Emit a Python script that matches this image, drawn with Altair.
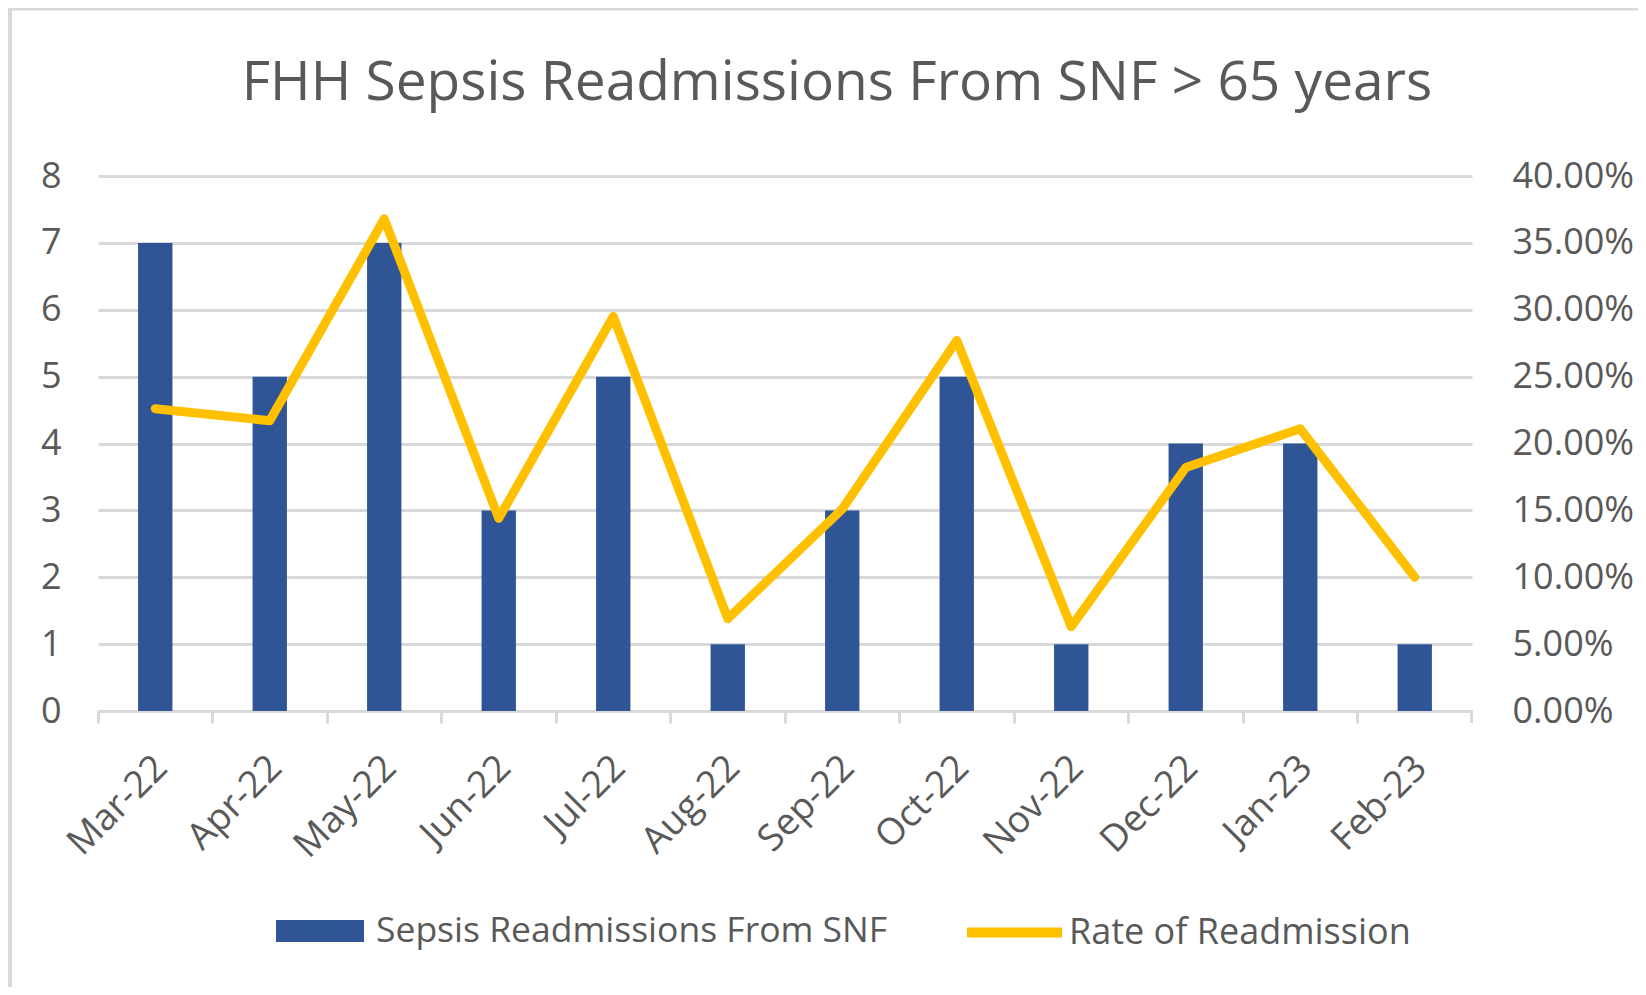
import altair as alt
import pandas as pd

months = ["Mar-22", "Apr-22", "May-22", "Jun-22", "Jul-22", "Aug-22",
          "Sep-22", "Oct-22", "Nov-22", "Dec-22", "Jan-23", "Feb-23"]
readmissions = [7, 5, 7, 3, 5, 1, 3, 5, 1, 4, 4, 1]
rates = [0.226, 0.217, 0.368, 0.144, 0.295, 0.069, 0.151, 0.277, 0.063, 0.182, 0.211, 0.100]

bar_name = "Sepsis Readmissions From SNF"
line_name = "Rate of Readmission"
title_text = "FHH Sepsis Readmissions From SNF > 65 years"

bar_df = pd.DataFrame({"month": months, "count": readmissions, "series": bar_name})
line_df = pd.DataFrame({"month": months, "rate": rates, "series": line_name})

FONT = "Open Sans"
TXT = "#595959"
GRID = "#D9D9D9"
BLUE = "#2F5597"
GOLD = "#FFC000"

W, H = 1374, 535
STEP = W / 12.0

xenc = alt.X(
    "month:N", sort=months, title=None,
    scale=alt.Scale(paddingInner=0.7, paddingOuter=0.35),
    axis=alt.Axis(labelAngle=-45, labelFontSize=37, labelColor=TXT, labelFont=FONT,
                  domainColor=GRID, domainWidth=3, tickColor=GRID, tickWidth=3,
                  tickSize=12, tickOffset=-STEP / 2, labelOffset=STEP / 2 - 7,
                  labelPadding=26, grid=False),
)

bars = alt.Chart(bar_df).mark_bar().encode(
    x=xenc,
    y=alt.Y("count:Q", title=None,
            scale=alt.Scale(domain=[0, 8], nice=False),
            axis=alt.Axis(values=[0, 1, 2, 3, 4, 5, 6, 7, 8], grid=True, gridColor=GRID,
                          gridWidth=3, domain=False, ticks=False, labelPadding=37,
                          labelFontSize=36, labelColor=TXT, labelFont=FONT)),
    fill=alt.Fill("series:N", scale=alt.Scale(domain=[bar_name], range=[BLUE]),
                  legend=alt.Legend(title=None, orient="none", legendX=178, legendY=711,
                                    symbolType="M-1,-0.25H1V0.25H-1Z", symbolSize=7744,
                                    symbolStrokeWidth=0, labelFontSize=35.5, labelColor=TXT,
                                    labelFont=FONT, labelOffset=12, padding=0, labelLimit=0)),
)

line = alt.Chart(line_df).mark_line(strokeWidth=9, strokeCap="round", strokeJoin="round").encode(
    x=alt.X("month:N", sort=months),
    y=alt.Y("rate:Q", title=None,
            scale=alt.Scale(domain=[0, 0.4], nice=False),
            axis=alt.Axis(orient="right", values=[0, 0.05, 0.1, 0.15, 0.2, 0.25, 0.3, 0.35, 0.4],
                          format=".2%", grid=False, domain=False, ticks=False,
                          labelPadding=40, labelFontSize=36, labelColor=TXT, labelFont=FONT)),
    stroke=alt.Stroke("series:N", scale=alt.Scale(domain=[line_name], range=[GOLD]),
                      legend=alt.Legend(title=None, orient="none", legendX=864, legendY=704,
                                        symbolType="stroke", symbolSize=9025,
                                        symbolStrokeWidth=10, labelFontSize=36, labelColor=TXT,
                                        labelFont=FONT, labelOffset=2, padding=0, labelLimit=0)),
)

deco_df = pd.DataFrame({"k": [0]})
frame_left = alt.Chart(deco_df).mark_rule(color=GRID, strokeWidth=4).encode(
    x=alt.value(-88), y=alt.value(-168), y2=alt.value(820))
frame_top = alt.Chart(deco_df).mark_rule(color=GRID, strokeWidth=4).encode(
    x=alt.value(-90), x2=alt.value(1560), y=alt.value(-167.4))
end_tick = alt.Chart(deco_df).mark_rule(color=GRID, strokeWidth=3).encode(
    x=alt.value(W - 0.5), y=alt.value(H), y2=alt.value(H + 12))

chart = alt.layer(bars, line, frame_left, frame_top, end_tick).resolve_scale(
    y="independent", fill="independent", stroke="independent"
).properties(
    width=W, height=H,
    view=alt.ViewBackground(stroke="transparent", strokeWidth=0),
    padding={"left": 90, "top": 168, "right": 166, "bottom": 276},
    autosize=alt.AutoSizeParams(type="none"),
    title=alt.TitleParams(title_text, fontSize=55, font=FONT, color=TXT, fontWeight="normal",
                          anchor="middle", dx=52, offset=0, dy=149, baseline="alphabetic"),
).configure_view(stroke="transparent", strokeWidth=0).configure(background="white")

chart.save("out.html", embed_options={"renderer": "svg", "actions": False})
